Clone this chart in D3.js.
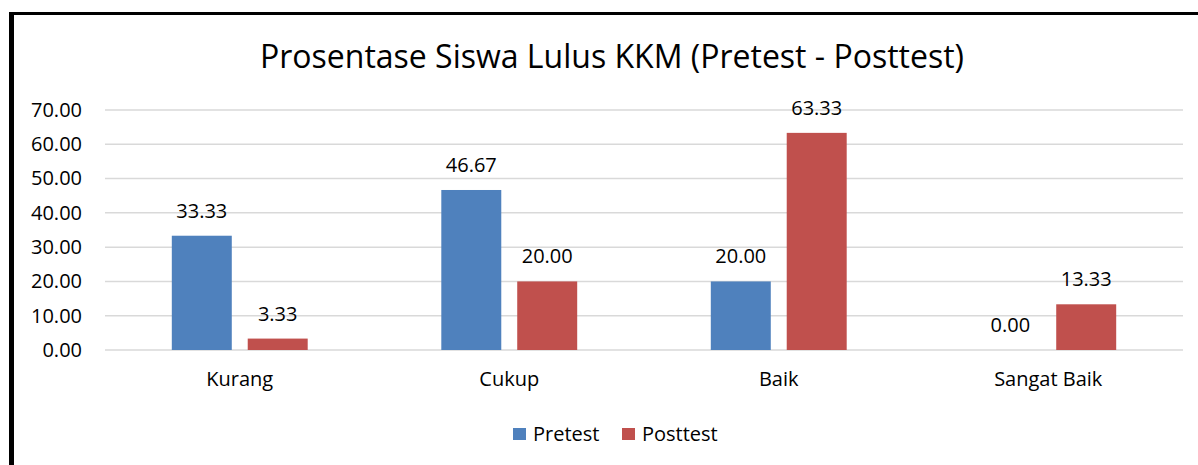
<!DOCTYPE html>
<html>
<head>
<meta charset="utf-8">
<script src="https://cdn.jsdelivr.net/npm/d3@7"></script>
<style>
  body { margin: 0; background: #fff; }
  text { font-family: "Open Sans", sans-serif; fill: #000; }
</style>
</head>
<body>
<svg></svg>
<script>
var categories = ["Kurang", "Cukup", "Baik", "Sangat Baik"];
var seriesNames = ["Pretest", "Posttest"];
var pretest = [33.33, 46.67, 20.00, 0.00];
var posttest = [3.33, 20.00, 63.33, 13.33];
var yTicks = [0, 10, 20, 30, 40, 50, 60, 70];
var colors = {Pretest: "#4F81BD", Posttest: "#C0504D"};

var screen = {width: 1198, height: 465};
var plot = {left: 105, right: 1183, top: 110, bottom: 350};

var svg = d3.select("svg")
    .attr("width", screen.width)
    .attr("height", screen.height);

// frame
svg.append("line")
    .attr("x1", 11.5).attr("x2", 11.5)
    .attr("y1", 12).attr("y2", screen.height)
    .attr("stroke", "#000").attr("stroke-width", 5);
svg.append("line")
    .attr("x1", 9).attr("x2", screen.width)
    .attr("y1", 13.5).attr("y2", 13.5)
    .attr("stroke", "#000").attr("stroke-width", 3);

svg.append("text")
    .attr("x", 612)
    .attr("y", 68)
    .attr("text-anchor", "middle")
    .style("font-size", "32px")
    .text("Prosentase Siswa Lulus KKM (Pretest - Posttest)");

var data = categories.map(function(c, i){
    return {cat: c, Pretest: pretest[i], Posttest: posttest[i]};
});

var x0 = d3.scaleBand()
    .domain(categories)
    .range([plot.left, plot.right]);

var x1 = d3.scaleBand()
    .domain(seriesNames)
    .range([0, x0.bandwidth()])
    .paddingInner(0.21)
    .paddingOuter(0.88);

var yScale = d3.scaleLinear()
    .domain([0, 70])
    .range([plot.bottom, plot.top]);

// gridlines
svg.append("g")
    .selectAll("line")
    .data(yTicks)
    .enter()
    .append("line")
    .attr("x1", plot.left)
    .attr("x2", plot.right)
    .attr("y1", function(d){ return yScale(d); })
    .attr("y2", function(d){ return yScale(d); })
    .attr("stroke", "#D9D9D9")
    .attr("stroke-width", 1.5);

// y axis labels
var yAxis = d3.axisLeft(yScale)
    .tickValues(yTicks)
    .tickFormat(d3.format(".2f"))
    .tickSize(0)
    .tickPadding(0);

svg.append("g")
    .attr("transform", "translate(82,0)")
    .call(yAxis)
    .call(function(g){ g.select(".domain").remove(); })
    .selectAll("text")
    .style("font-size", "20px")
    .style("font-family", "Open Sans, sans-serif")
    .attr("fill", "#000");

// x axis labels
var xAxis = d3.axisBottom(x0).tickSize(0).tickPadding(0);
svg.append("g")
    .attr("transform", "translate(0,372)")
    .call(xAxis)
    .call(function(g){ g.select(".domain").remove(); })
    .selectAll("text")
    .style("font-size", "20px")
    .style("font-family", "Open Sans, sans-serif")
    .attr("fill", "#000");

// bars
var groups = svg.append("g")
    .selectAll("g")
    .data(data)
    .enter()
    .append("g")
    .attr("transform", function(d){ return "translate(" + x0(d.cat) + ",0)"; });

groups.selectAll("rect")
    .data(function(d){ return seriesNames.map(function(s){ return {key: s, value: d[s]}; }); })
    .enter()
    .append("rect")
    .attr("x", function(d){ return x1(d.key); })
    .attr("y", function(d){ return yScale(d.value); })
    .attr("width", x1.bandwidth())
    .attr("height", function(d){ return yScale(0) - yScale(d.value); })
    .attr("fill", function(d){ return colors[d.key]; });

groups.selectAll("text")
    .data(function(d){ return seriesNames.map(function(s){ return {key: s, value: d[s]}; }); })
    .enter()
    .append("text")
    .attr("x", function(d){ return x1(d.key) + x1.bandwidth() / 2; })
    .attr("y", function(d){ return yScale(d.value) - 18; })
    .attr("text-anchor", "middle")
    .style("font-size", "20px")
    .text(function(d){ return d3.format(".2f")(d.value); });

// legend
var legend = svg.append("g")
    .attr("transform", "translate(513,428)");
var legendX = [0, 109];
var items = legend.selectAll("g")
    .data(seriesNames)
    .enter()
    .append("g")
    .attr("transform", function(d, i){ return "translate(" + legendX[i] + ",0)"; });
items.append("rect")
    .attr("width", 13)
    .attr("height", 12)
    .attr("fill", function(d){ return colors[d]; });
items.append("text")
    .attr("x", 20)
    .attr("y", 13)
    .style("font-size", "20px")
    .text(function(d){ return d; });
</script>
</body>
</html>
